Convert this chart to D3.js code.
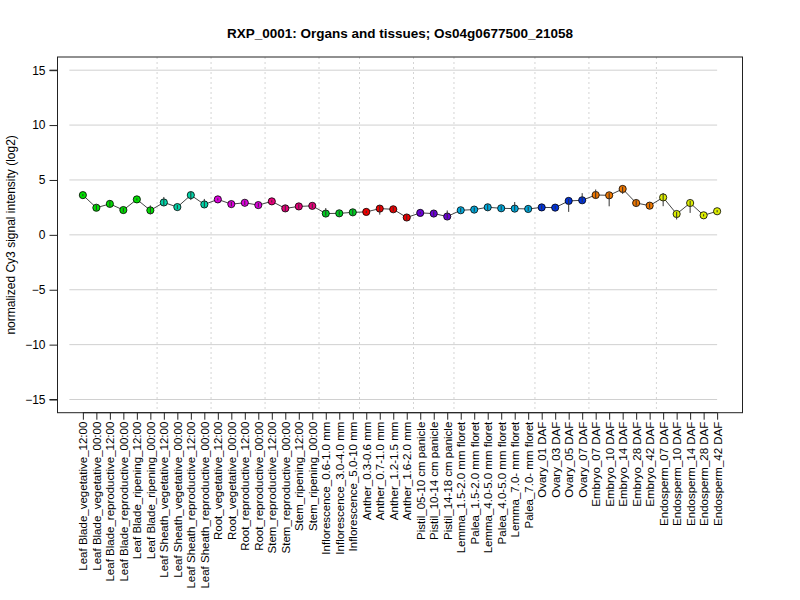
<!DOCTYPE html>
<html>
<head>
<meta charset="utf-8">
<script src="https://cdn.jsdelivr.net/npm/d3@7"></script>
<style>
  body { margin: 0; background: #fff; }
  text { font-family: "Liberation Sans", Arial, Helvetica, sans-serif; }
</style>
</head>
<body>
<div id="chart"></div>
<script>
// sample labels, one per point
const labels = [
  "Leaf Blade_vegetative_12:00", "Leaf Blade_vegetative_00:00",
  "Leaf Blade_reproductive_12:00", "Leaf Blade_reproductive_00:00",
  "Leaf Blade_ripening_12:00", "Leaf Blade_ripening_00:00",
  "Leaf Sheath_vegetative_12:00", "Leaf Sheath_vegetative_00:00",
  "Leaf Sheath_reproductive_12:00", "Leaf Sheath_reproductive_00:00",
  "Root_vegetative_12:00", "Root_vegetative_00:00",
  "Root_reproductive_12:00", "Root_reproductive_00:00",
  "Stem_reproductive_12:00", "Stem_reproductive_00:00",
  "Stem_ripening_12:00", "Stem_ripening_00:00",
  "Inflorescence_0.6-1.0 mm", "Inflorescence_3.0-4.0 mm", "Inflorescence_5.0-10 mm",
  "Anther_0.3-0.6 mm", "Anther_0.7-1.0 mm", "Anther_1.2-1.5 mm", "Anther_1.6-2.0 mm",
  "Pistil_05-10 cm panicle", "Pistil_10-14 cm panicle", "Pistil_14-18 cm panicle",
  "Lemma_1.5-2.0 mm floret", "Palea_1.5-2.0 mm floret",
  "Lemma_4.0-5.0 mm floret", "Palea_4.0-5.0 mm floret",
  "Lemma_7.0- mm floret", "Palea_7.0- mm floret",
  "Ovary_01 DAF", "Ovary_03 DAF", "Ovary_05 DAF", "Ovary_07 DAF",
  "Embryo_07 DAF", "Embryo_10 DAF", "Embryo_14 DAF", "Embryo_28 DAF", "Embryo_42 DAF",
  "Endosperm_07 DAF", "Endosperm_10 DAF", "Endosperm_14 DAF", "Endosperm_28 DAF", "Endosperm_42 DAF"
];

// mean signal (log2)
const values = [
  3.62, 2.47, 2.82, 2.26, 3.23, 2.23,
  2.95, 2.53, 3.62, 2.77,
  3.23, 2.80, 2.92, 2.71,
  3.05, 2.41, 2.59, 2.64,
  1.94, 1.96, 2.05,
  2.09, 2.39, 2.33, 1.58,
  2.00, 1.94, 1.67,
  2.24, 2.30, 2.51, 2.42, 2.39, 2.36,
  2.50, 2.48, 3.09, 3.15,
  3.63, 3.60, 4.18, 2.90, 2.66,
  3.41, 1.90, 2.90, 1.78, 2.15
];

// error bar extent below / above the mean
const errDown = [
  0.10, 0.25, 0.25, 0.20, 0.10, 0.35,
  0.30, 0.20, 0.45, 0.25,
  0.10, 0.20, 0.20, 0.20,
  0.10, 0.30, 0.20, 0.20,
  0.20, 0.20, 0.25,
  0.10, 0.55, 0.20, 0.25,
  0.10, 0.20, 0.20,
  0.20, 0.20, 0.25, 0.20, 0.20, 0.20,
  0.20, 0.15, 1.00, 0.20,
  0.30, 1.00, 0.45, 0.25, 0.20,
  0.80, 0.50, 0.90, 0.10, 0.10
];
const errUp = [
  0.10, 0.25, 0.25, 0.20, 0.10, 0.45,
  0.50, 0.20, 0.30, 0.50,
  0.10, 0.20, 0.20, 0.20,
  0.10, 0.30, 0.20, 0.20,
  0.50, 0.20, 0.25,
  0.10, 0.30, 0.20, 0.25,
  0.10, 0.20, 0.55,
  0.20, 0.20, 0.25, 0.20, 0.60, 0.20,
  0.20, 0.15, 0.20, 0.65,
  0.50, 0.20, 0.20, 0.25, 0.20,
  0.40, 0.20, 0.20, 0.10, 0.10
];

// tissue groups: size and colour
const groupSizes = [6, 4, 4, 4, 3, 4, 3, 6, 4, 5, 5];
const groupColors = ["#00dd00", "#00d4a8", "#dd00dd", "#e6007a", "#00cc22", "#ee0000",
                     "#6a00d6", "#00aadd", "#0033dd", "#ee7700", "#ddee00"];

const yTicks = [-15, -10, -5, 0, 5, 10, 15];

const width = 800, height = 600;
const mLeft = 57.5, mRight = 742.5, mTop = 57, mBottom = 412.7;

const svg = d3.select("#chart").append("svg")
  .attr("width", width)
  .attr("height", height);

const n = values.length;
const x = d3.scaleLinear().domain([1 - 0.04 * (n - 1), n + 0.04 * (n - 1)]).range([mLeft, mRight]);
const y = d3.scaleLinear().domain([-16.2, 16.2]).range([mBottom, mTop]);

// colour per point from groups
const pointColor = [];
groupSizes.forEach((s, g) => { for (let k = 0; k < s; k++) pointColor.push(groupColors[g]); });

// group separators (between groups)
const seps = [];
let acc = 0;
groupSizes.slice(0, -1).forEach(s => { acc += s; seps.push(acc + 0.5); });

// horizontal grid
svg.selectAll("line.hgrid").data(yTicks).enter().append("line")
  .attr("class", "hgrid")
  .attr("x1", x(0)).attr("x2", x(n))
  .attr("y1", d => y(d)).attr("y2", d => y(d))
  .attr("stroke", "#d0d0d0").attr("stroke-width", 1);

// vertical dotted separators
svg.selectAll("line.vsep").data(seps).enter().append("line")
  .attr("class", "vsep")
  .attr("x1", d => x(d)).attr("x2", d => x(d))
  .attr("y1", mTop).attr("y2", mBottom)
  .attr("stroke", "#d4d4d4").attr("stroke-width", 1)
  .attr("stroke-dasharray", "2,3");

// connecting line
const line = d3.line().x((d, i) => x(i + 1)).y(d => y(d));
svg.append("path")
  .datum(values)
  .attr("d", line)
  .attr("fill", "none")
  .attr("stroke", "#444")
  .attr("stroke-width", 1);

// points
svg.selectAll("circle").data(values).enter().append("circle")
  .attr("cx", (d, i) => x(i + 1))
  .attr("cy", d => y(d))
  .attr("r", 3.6)
  .attr("fill", (d, i) => pointColor[i])
  .attr("stroke", "#000")
  .attr("stroke-width", 0.8);

// error bars
svg.selectAll("line.err").data(values).enter().append("line")
  .attr("class", "err")
  .attr("x1", (d, i) => x(i + 1)).attr("x2", (d, i) => x(i + 1))
  .attr("y1", (d, i) => y(d - errDown[i]))
  .attr("y2", (d, i) => y(d + errUp[i]))
  .attr("stroke", "#333").attr("stroke-width", 1);

// box
svg.append("rect")
  .attr("x", mLeft).attr("y", mTop)
  .attr("width", mRight - mLeft).attr("height", mBottom - mTop)
  .attr("fill", "none").attr("stroke", "#222").attr("stroke-width", 1);

// y axis
const yAxis = d3.axisLeft(y).tickValues(yTicks).tickSize(8).tickPadding(4).tickFormat(d3.format("d"));
const gy = svg.append("g").attr("transform", `translate(${mLeft},0)`).call(yAxis);
gy.select(".domain").attr("d", `M-8,${y(-15)}H0V${y(15)}H-8`).attr("stroke", "#222");
gy.selectAll(".tick line").attr("stroke", "#222");
gy.selectAll(".tick text")
  .style("font-family", "'Liberation Sans', Arial, sans-serif")
  .style("font-size", "12px").attr("fill", "#000");

// x axis
const xAxis = d3.axisBottom(x).tickValues(d3.range(1, n + 1)).tickSize(7).tickFormat(d => labels[d - 1]);
const gx = svg.append("g").attr("transform", `translate(0,${mBottom})`).call(xAxis);
gx.select(".domain").attr("d", `M${x(1)},0H${x(n)}`).attr("stroke", "#222");
gx.selectAll(".tick line").attr("stroke", "#222");
gx.selectAll(".tick text")
  .style("font-family", "'Liberation Sans', Arial, sans-serif")
  .style("font-size", "11.5px").attr("fill", "#000")
  .attr("text-anchor", "end")
  .attr("dy", "0.35em")
  .attr("transform", "translate(0,2) rotate(-90)")
  .attr("x", -7).attr("y", 0);

// title
svg.append("text")
  .attr("x", (mLeft + mRight) / 2).attr("y", 38)
  .attr("text-anchor", "middle")
  .style("font-size", "13.5px").style("font-weight", "bold")
  .text("RXP_0001: Organs and tissues; Os04g0677500_21058");

// y label
svg.append("text")
  .attr("transform", `translate(15,${(mTop + mBottom) / 2}) rotate(-90)`)
  .attr("text-anchor", "middle")
  .style("font-size", "12px")
  .text("normalized Cy3 signal intensity (log2)");
</script>
</body>
</html>
